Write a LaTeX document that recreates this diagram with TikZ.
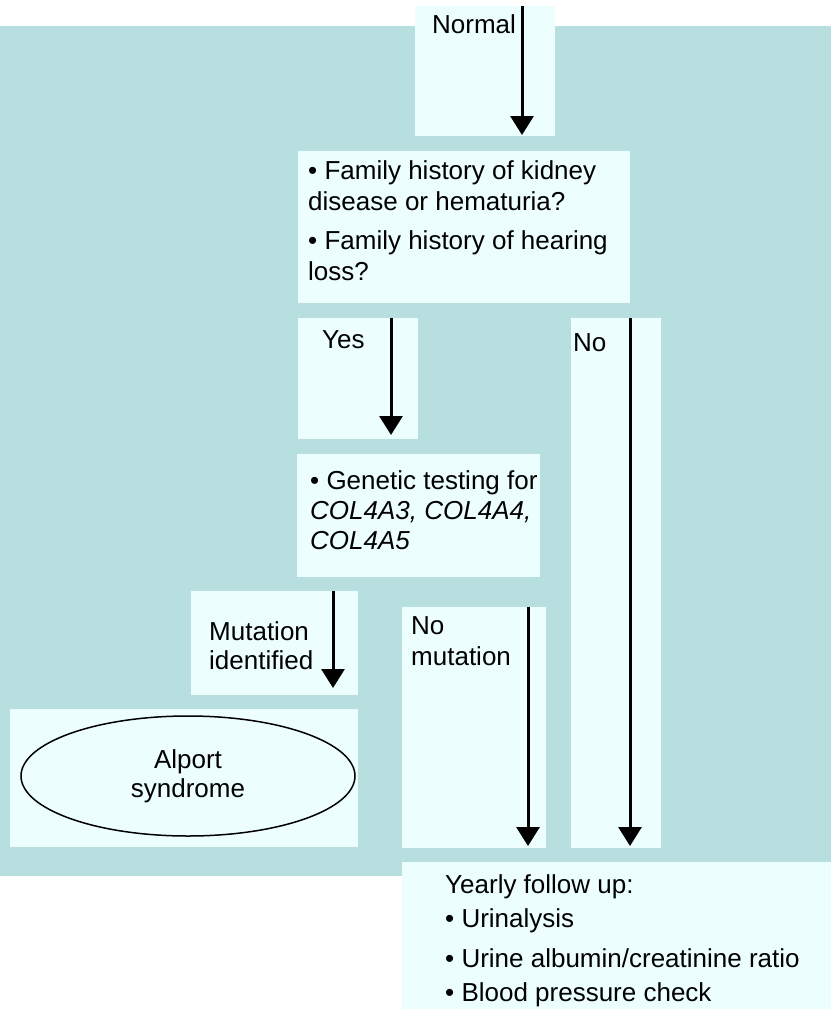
\documentclass[tikz,border=0pt]{standalone}
\usepackage{fontspec}
\setmainfont{Liberation Sans}
\usepackage{xcolor}
\usetikzlibrary{arrows.meta,positioning,shapes.geometric}

\definecolor{tealbg}{RGB}{184,223,224}
\definecolor{panefill}{RGB}{236,254,254}

\begin{document}
\begin{tikzpicture}[
  x=1pt, y=-1pt,
  pane/.style={fill=panefill,inner sep=0pt,anchor=north west},
  txt/.style={inner sep=0pt,anchor=north west,align=left,
              font=\fontsize{26}{31}\selectfont},
  ar/.style={-{Triangle[length=19pt,width=23pt]},line width=3pt}
]
\useasboundingbox (0,0) rectangle (831,1009);
\fill[white] (0,0) rectangle (831,1009);
\fill[tealbg] (0,26) rectangle (831,876);

% panes
\node[pane,minimum width=140pt,minimum height=130pt] (normal) at (415,6) {};
\node[pane,minimum width=332pt,minimum height=152pt] (family) at (298,151) {};
\node[pane,minimum width=120pt,minimum height=121pt] (yes) at (298,318) {};
\node[pane,minimum width=90pt,minimum height=530pt] (no) at (571,318) {};
\node[pane,minimum width=243pt,minimum height=123pt] (genetic) at (297,454) {};
\node[pane,minimum width=167pt,minimum height=104pt] (mutation) at (191,591) {};
\node[pane,minimum width=144pt,minimum height=241pt] (nomut) at (402,607) {};
\node[pane,minimum width=348pt,minimum height=138pt] (alportbox) at (10,709) {};
\node[pane,minimum width=429pt,minimum height=147pt] (yearly) at (402,862) {};

% texts
\node[txt,below right=8pt and 17pt of normal.north west] (normallbl) {Normal};
\node[txt,below right=9pt and 10pt of family.north west] (familylbl)
  {\textbullet\ Family history of kidney\\disease or hematuria?\\[8pt]
   \textbullet\ Family history of hearing\\loss?};
\node[txt,below right=12pt and 24pt of yes.north west] (yeslbl) {Yes};
\node[txt,below right=15pt and 2pt of no.north west] (nolbl) {No};
\node[txt,font=\fontsize{26}{30}\selectfont,
      below right=16pt and 13pt of genetic.north west] (geneticlbl)
  {\textbullet\ Genetic testing for\\\textit{COL4A3, COL4A4,}\\\textit{COL4A5}};
\node[txt,font=\fontsize{26}{29}\selectfont,
      below right=30pt and 18pt of mutation.north west] (mutationlbl)
  {Mutation\\identified};
\node[txt,below right=9pt and 9pt of nomut.north west] (nomutlbl) {No\\mutation};
\node[txt,font=\fontsize{26}{34}\selectfont,
      below right=12pt and 43pt of yearly.north west] (yearlylbl)
  {Yearly follow up:\\\textbullet\ Urinalysis\\[6pt]
   \textbullet\ Urine albumin/creatinine ratio\\\textbullet\ Blood pressure check};

\node[draw,ellipse,line width=1.5pt,minimum width=334pt,minimum height=120pt,
      align=center,inner sep=0pt,font=\fontsize{26}{29}\selectfont]
      (alport) at (188,776) {\raisebox{-4pt}{Alport}\\\raisebox{-4pt}{syndrome}};

% arrows
\coordinate (aNormal) at (522,6);
\coordinate (aYes) at (391,318);
\coordinate (aNo) at (630,318);
\coordinate (aMut) at (333,591);
\coordinate (aNoMut) at (528,607);

\draw[ar,shorten >=16pt] (aNormal) -- (aNormal |- family.north);
\draw[ar,shorten >=19pt] (aYes) -- (aYes |- genetic.north);
\draw[ar,shorten >=16pt] (aNo) -- (aNo |- yearly.north);
\draw[ar,shorten >=21pt] (aMut) -- (aMut |- alportbox.north);
\draw[ar,shorten >=16pt] (aNoMut) -- (aNoMut |- yearly.north);
\end{tikzpicture}
\end{document}
